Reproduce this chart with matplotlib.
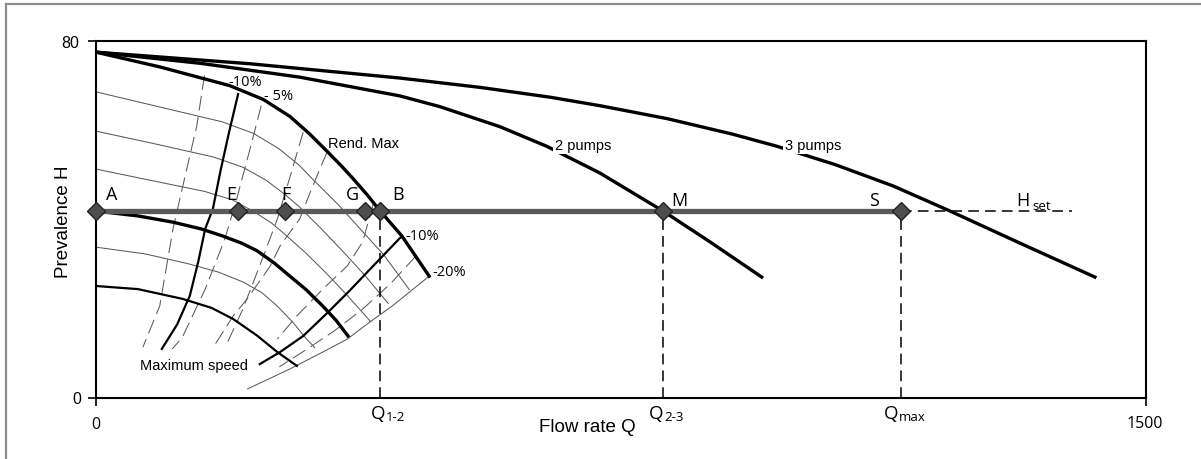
import matplotlib
matplotlib.use("Agg")
import matplotlib.pyplot as plt
from matplotlib.lines import Line2D

# ---------------- data (Q = flow rate, H = prevalence) ----------------
q_1pump = [0, 91, 191, 239, 277, 305, 330, 350, 367, 387, 406, 437, 476]
h_1pump = [77.5, 74.2, 70.0, 66.9, 63.1, 59.2, 55.3, 52.1, 49.2, 45.6, 41.9, 36.3, 27.3]

q_2pumps = [0, 149, 291, 434, 491, 577, 644, 720, 810, 877, 951]
h_2pumps = [77.5, 75.0, 71.9, 67.7, 65.3, 60.8, 56.4, 50.4, 41.9, 35.0, 27.1]

q_3pumps = [0, 220, 434, 549, 649, 720, 816, 910, 973, 1056, 1139, 1220, 1320, 1427]
h_3pumps = [77.5, 74.9, 71.7, 69.6, 67.4, 65.5, 62.6, 59.1, 56.4, 52.3, 47.5, 41.9, 34.7, 27.1]

# reduced-speed curves of one pump
q_sp1 = [0, 86, 180, 225, 261, 290, 311, 345, 382, 411, 448]
h_sp1 = [68.6, 65.4, 61.9, 59.3, 55.9, 52.2, 48.8, 43.5, 37.1, 32.1, 24.2]
q_sp2 = [0, 80, 168, 210, 243, 270, 290, 322, 356, 384, 418]
h_sp2 = [59.8, 57.1, 54.0, 51.7, 48.8, 45.6, 42.9, 37.9, 32.3, 27.5, 21.1]
q_sp3 = [0, 74, 155, 195, 225, 250, 269, 299, 330, 356, 393]
h_sp3 = [51.3, 48.9, 46.3, 44.4, 41.8, 39.3, 36.8, 32.6, 27.8, 23.5, 17.0]
q_spA = [0, 60, 110, 150, 181, 208, 230, 255, 277, 300, 324, 343, 360]
h_spA = [41.9, 40.8, 39.4, 37.9, 36.3, 34.7, 33.0, 30.2, 27.3, 24.3, 20.6, 17.4, 13.9]
q_sp5 = [0, 70, 134, 175, 210, 237, 259, 281, 301, 313]
h_sp5 = [33.8, 32.3, 30.0, 28.2, 26.0, 23.6, 20.6, 17.0, 13.2, 11.2]
q_sp6 = [0, 60, 124, 165, 196, 230, 259, 287]
h_sp6 = [25.1, 24.4, 22.2, 20.2, 17.7, 14.0, 10.3, 7.2]

# iso-efficiency lines
q_eff_a = [155, 144, 124, 110, 91, 67]
h_eff_a = [72.3, 61.0, 47.5, 37.9, 20.6, 11.4]
q_eff_m10l = [203, 190, 178, 167, 156, 146, 134, 116, 94]
h_eff_m10l = [68.1, 59.5, 51.0, 42.4, 37.9, 30.5, 22.9, 16.5, 11.0]
q_eff_m5 = [236, 220, 201, 184, 156, 123, 109]
h_eff_m5 = [65.5, 55.8, 44.6, 35.6, 24.4, 13.5, 11.0]
q_eff_b = [296, 278, 259, 236, 210, 188]
h_eff_b = [59.6, 50.0, 40.1, 30.5, 20.0, 12.5]
q_eff_max = [330, 306, 291, 263, 249, 216, 196, 166]
h_eff_max = [55.1, 46.1, 40.1, 34.1, 29.6, 22.2, 18.4, 11.0]
q_eff_c = [396, 381, 359, 324, 287, 259]
h_eff_c = [43.5, 35.0, 29.6, 24.4, 18.4, 13.2]
q_eff_m10r = [437, 396, 362, 332, 296, 263, 234]
h_eff_m10r = [36.3, 29.6, 24.0, 19.3, 13.9, 10.3, 7.6]
q_eff_d = [457, 420, 380, 340, 300, 262]
h_eff_d = [31.8, 25.5, 19.8, 15.0, 10.8, 7.0]
q_eff_m20 = [476, 423, 391, 359, 324, 277, 216]
h_eff_m20 = [27.3, 20.6, 17.0, 13.2, 10.3, 6.5, 2.0]

h_set = 41.9
q_hset_end = 1394
point_names = ["A", "E", "F", "G", "B", "M", "S"]
point_q = [0, 203, 270, 384, 406, 810, 1150]
q_cuts = [406, 810, 1150]
cut_labels = [("Q", "1-2"), ("Q", "2-3"), ("Q", "max")]

# ---------------- figure ----------------
W, H = 1201, 460
fig = plt.figure(figsize=(W / 100, H / 100), dpi=100)
fig.patch.set_facecolor("white")
ax = fig.add_axes([96 / W, 1 - 399 / H, 1050 / W, 357 / H])
ax.set_xlim(0, 1500)
ax.set_ylim(0, 80)

SANS = ["Liberation Sans", "DejaVu Sans"]
MYR = ["Open Sans", "DejaVu Sans"]

def fx(x):
    return x / W

def fy(y):
    return 1 - y / H

# outer frame of the picture
fig.add_artist(Line2D([fx(6), fx(6)], [fy(5), fy(470)], color="#8c8c8c", lw=1.6))
fig.add_artist(Line2D([fx(6), fx(1210)], [fy(5), fy(5)], color="#8c8c8c", lw=1.6))

for s in ax.spines.values():
    s.set_linewidth(1.5)
    s.set_color("black")
ax.set_xticks([0, 1500])
ax.set_yticks([0, 80])
ax.set_xticklabels([])
ax.set_yticklabels([])
ax.tick_params(direction="out", length=6, width=1.2)

THIN = dict(color="#5a5a5a", lw=0.75, zorder=2, solid_capstyle="butt")
DASH = dict(color="#5a5a5a", lw=0.75, zorder=2, dashes=(14, 6))

for q, h in [(q_sp1, h_sp1), (q_sp2, h_sp2), (q_sp3, h_sp3), (q_sp5, h_sp5)]:
    ax.plot(q, h, **THIN)
ax.plot(q_spA, h_spA, color="black", lw=2.4, zorder=3)
ax.plot(q_sp6, h_sp6, color="black", lw=1.6, zorder=3)

for q, h in [(q_eff_a, h_eff_a), (q_eff_m5, h_eff_m5), (q_eff_b, h_eff_b),
             (q_eff_max, h_eff_max), (q_eff_c, h_eff_c), (q_eff_d, h_eff_d)]:
    ax.plot(q, h, **DASH)
ax.plot(q_eff_m20, h_eff_m20, **THIN)
ax.plot(q_eff_m10l, h_eff_m10l, color="black", lw=1.6, zorder=3)
ax.plot(q_eff_m10r, h_eff_m10r, color="black", lw=1.6, zorder=3)

ax.plot(q_1pump, h_1pump, color="black", lw=2.4, zorder=3)
ax.plot(q_2pumps, h_2pumps, color="black", lw=2.4, zorder=3)
ax.plot(q_3pumps, h_3pumps, color="black", lw=2.4, zorder=3)

# H_set line
ax.plot([0, point_q[-1]], [h_set, h_set], color="#5a5a5a", lw=3.8, zorder=4,
        solid_capstyle="butt")
ax.plot([point_q[-1], q_hset_end], [h_set, h_set], color="black", lw=1.1,
        dashes=(7, 4), zorder=4)
for qc in q_cuts:
    ax.plot([qc, qc], [0, h_set], color="black", lw=1.1, dashes=(7, 4), zorder=3)

ax.plot(point_q, [h_set] * len(point_q), linestyle="none", marker="D", ms=9.5,
        mfc="#4d4d4d", mec="#222222", mew=1.0, zorder=6, clip_on=False)

# point letters (pixel positions)
letter_pos = {"A": (112, 195), "E": (231, 195), "F": (286, 195), "G": (352, 195),
              "B": (398, 195), "M": (679, 201), "S": (874, 201)}
for n in point_names:
    x, y = letter_pos[n]
    fig.text(fx(x), fy(y), n, fontsize=13, family=MYR, ha="center", va="center")
fig.text(fx(1016), fy(201), "H", fontsize=13, family=MYR, ha="left", va="center")
fig.text(fx(1032), fy(207), "set", fontsize=9.5, family=MYR, ha="left", va="center")

# Q labels
q_main_right = [385, 663, 898]
q_sub_left = [386, 664, 899]
for xr, xl, (m, sub) in zip(q_main_right, q_sub_left, cut_labels):
    fig.text(fx(xr), fy(414), m, fontsize=13.5, family=MYR, ha="right", va="center")
    fig.text(fx(xl), fy(418), sub, fontsize=9.5, family=MYR, ha="left", va="center")

# tick labels
fig.text(fx(96), fy(425), "0", fontsize=11.5, family=MYR, ha="center", va="center")
fig.text(fx(1145), fy(424), "1500", fontsize=11.5, family=MYR, ha="center", va="center")
fig.text(fx(77), fy(400), "0", fontsize=11.5, family=SANS, ha="center", va="center")
fig.text(fx(70), fy(43), "80", fontsize=11.5, family=SANS, ha="center", va="center")

# axis titles
fig.text(fx(587), fy(428), "Flow rate Q", fontsize=13.5, family=SANS, ha="center", va="center")
fig.text(fx(64), fy(222), "Prevalence H", fontsize=13.5, family=SANS, ha="center",
         va="center", rotation=90)

# curve annotations
fig.text(fx(228), fy(82), "-10%", fontsize=10.5, family=MYR, ha="left", va="center")
fig.text(fx(264), fy(97), "- 5%", fontsize=10.5, family=MYR, ha="left", va="center")
fig.text(fx(328), fy(144), "Rend. Max", fontsize=10.5, family=SANS, ha="left", va="center")
fig.text(fx(405), fy(236), "-10%", fontsize=10.5, family=MYR, ha="left", va="center")
fig.text(fx(432), fy(272), "-20%", fontsize=10.5, family=MYR, ha="left", va="center")
fig.text(fx(140), fy(366), "Maximum speed", fontsize=10.5, family=SANS, ha="left", va="center")
box = dict(facecolor="white", edgecolor="none", pad=1.5)
fig.text(fx(555), fy(146), "2 pumps", fontsize=10.5, family=SANS, ha="left",
         va="center", bbox=box, zorder=7)
fig.text(fx(785), fy(146), "3 pumps", fontsize=10.5, family=SANS, ha="left",
         va="center", bbox=box, zorder=7)

fig.savefig("out.png", dpi=100, facecolor="white")
